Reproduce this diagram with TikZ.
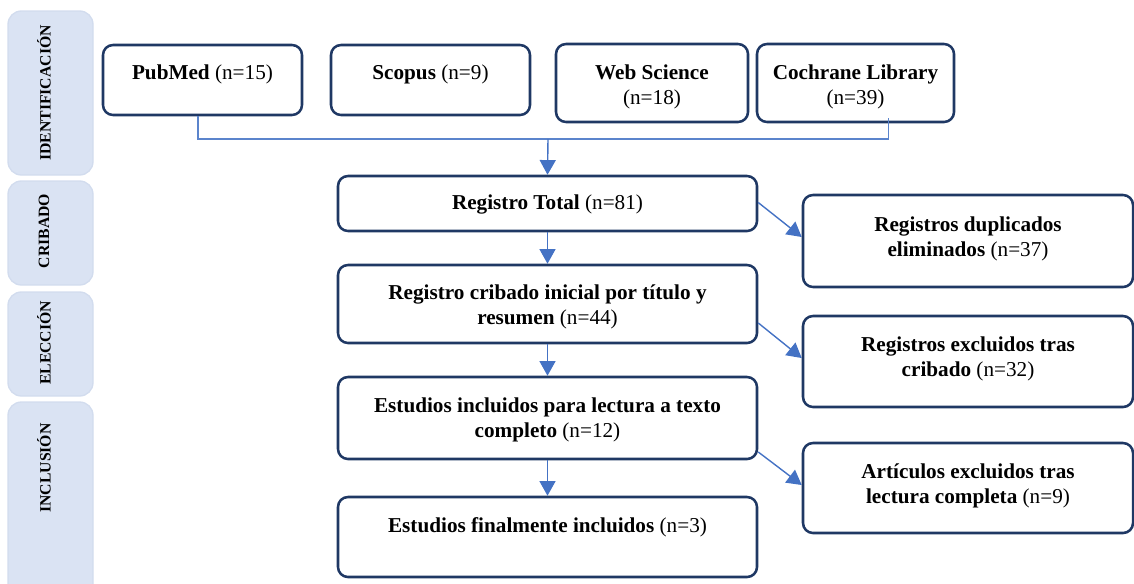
\documentclass[tikz,border=0pt]{standalone}
\usepackage{fontspec}
\setmainfont{Liberation Serif}
\usetikzlibrary{arrows.meta,fit}
\definecolor{navy}{HTML}{1F3864}
\definecolor{arrowblue}{HTML}{4472C4}
\definecolor{connblue}{HTML}{5B84CC}
\definecolor{panelfill}{HTML}{DAE3F3}
\definecolor{panelline}{HTML}{D2DCEE}
\begin{document}
\begin{tikzpicture}[x=0.75pt,y=-0.75pt,
  flowbox/.style={draw=navy, line width=1.9pt, rounded corners=7.5pt, inner sep=0pt},
  panel/.style={fill=panelfill, draw=panelline, line width=1pt, rounded corners=10pt, inner sep=0pt},
  boxtext/.style={font=\fontsize{15.9}{18.75}\selectfont, align=center, inner sep=0pt},
  paneltext/.style={font=\fontsize{11.8}{13}\selectfont\bfseries, rotate=90, inner sep=0pt},
  flowarrow/.style={draw=arrowblue, line width=1.05pt, -{Triangle[length=11pt,width=12pt]}},
  conn/.style={draw=connblue, line width=0.8pt}]
\useasboundingbox (0,0) rectangle (1134,583);
% side panels
\node[panel, fit={(8,11)(93,175)}] (pid) {};
\node[panel, fit={(8,181)(93,285)}] (pcr) {};
\node[panel, fit={(8,292)(93,396)}] (pel) {};
\node[panel, fit={(8,402)(93,610)}] (pin) {};
\node[paneltext] (tid) at (44,93) {IDENTIFICACIÓN};
\node[paneltext] (tcr) at (44,231) {CRIBADO};
\node[paneltext] (tel) at (44,343) {ELECCIÓN};
\node[paneltext] (tin) at (44,468) {INCLUSIÓN};
% top boxes
\node[flowbox, fit={(103,45)(302,115)}] (pub) {};
\node[boxtext] (tpub) at (202.5,74.5) {\textbf{PubMed} (n=15)};
\node[flowbox, fit={(331,45)(530,115)}] (sco) {};
\node[boxtext] (tsco) at (430.5,74.5) {\textbf{Scopus} (n=9)};
\node[flowbox, fit={(556,44)(748,122)}] (web) {};
\node[boxtext] (tweb) at (652,86.5) {\textbf{Web Science}\\(n=18)};
\node[flowbox, fit={(757,44)(954,122)}] (coch) {};
\node[boxtext] (tcoch) at (855.5,86.5) {\textbf{Cochrane Library}\\(n=39)};
% main column
\node[flowbox, fit={(338,176)(757,231)}] (rt) {};
\node[boxtext] (trt) at (547.5,204.5) {\textbf{Registro Total} (n=81)};
\node[flowbox, fit={(338,265)(757,343)}] (rc) {};
\node[boxtext] (trc) at (547.5,306.5) {\textbf{Registro cribado inicial por título y}\\\textbf{resumen} (n=44)};
\node[flowbox, fit={(338,377)(757,459)}] (ei) {};
\node[boxtext] (tei) at (547.5,420) {\textbf{Estudios incluidos para lectura a texto}\\\textbf{completo} (n=12)};
\node[flowbox, fit={(338,497)(757,577)}] (ef) {};
\node[boxtext] (tef) at (547.5,527.5) {\textbf{Estudios finalmente incluidos} (n=3)};
% right column
\node[flowbox, fit={(803,195)(1133,287)}] (dup) {};
\node[boxtext] (tdup) at (968,239) {\textbf{Registros duplicados}\\\textbf{eliminados} (n=37)};
\node[flowbox, fit={(803,316)(1133,407)}] (exc) {};
\node[boxtext] (texc) at (968,359) {\textbf{Registros excluidos tras}\\\textbf{cribado} (n=32)};
\node[flowbox, fit={(803,443)(1133,533)}] (art) {};
\node[boxtext] (tart) at (968,485.5) {\textbf{Artículos excluidos tras}\\\textbf{lectura completa} (n=9)};
% connectors
\coordinate (jn) at (548,139);
\draw[conn] ([xshift=-3.4pt]pub.south) |- (jn) -| ([xshift=24.75pt,yshift=3.75pt]coch.south);
\draw[flowarrow] (jn) -- (rt.north);
\draw[flowarrow] (rt.south) -- (rc.north);
\draw[flowarrow] (rc.south) -- (ei.north);
\draw[flowarrow] (ei.south) -- (ef.north);
\draw[flowarrow] ([yshift=0.75pt]rt.east) -- ([yshift=3pt]dup.west);
\draw[flowarrow] ([yshift=-14.25pt]rc.east) -- ([yshift=2.6pt]exc.west);
\draw[flowarrow] ([yshift=-25.5pt]ei.east) -- ([yshift=2.25pt]art.west);
\end{tikzpicture}
\end{document}
